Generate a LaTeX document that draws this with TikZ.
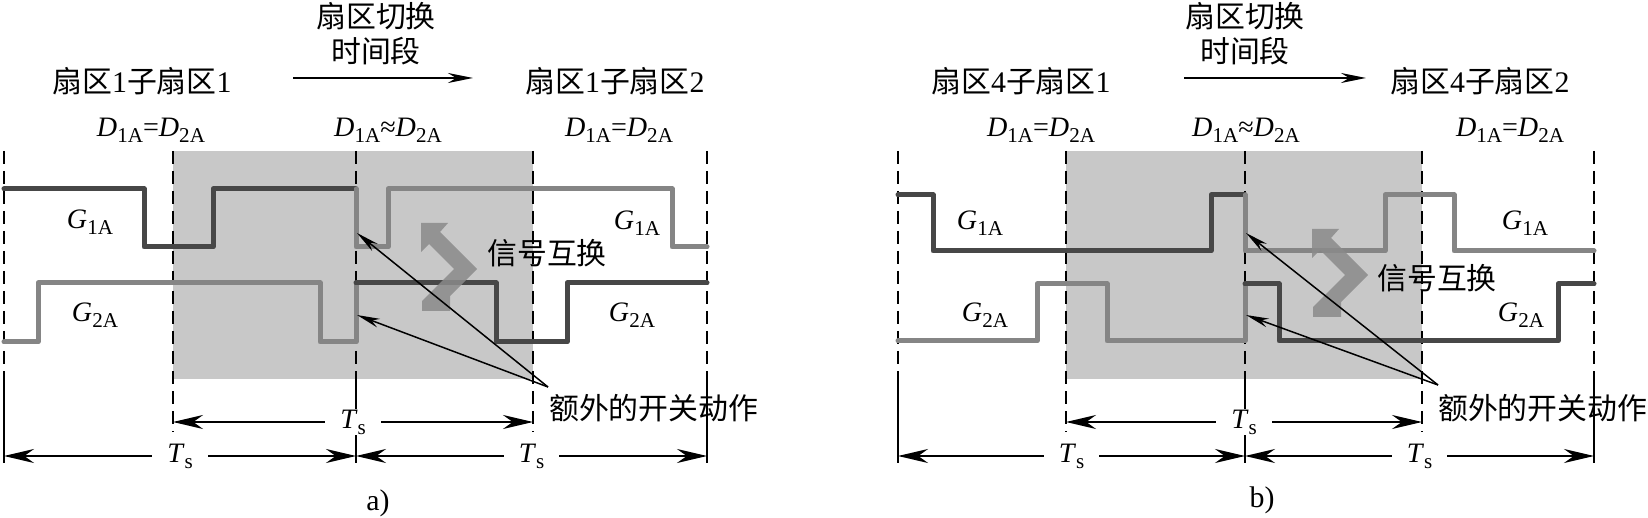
\documentclass[tikz,border=0pt]{standalone}
\usepackage{fontspec}
\setmainfont{Liberation Serif}
\newfontfamily\cjk{Noto Sans CJK SC}
\usetikzlibrary{arrows.meta}
\definecolor{shadegray}{HTML}{C8C8C8}
\definecolor{darkwave}{HTML}{474747}
\definecolor{lightwave}{HTML}{858585}
\definecolor{swapgray}{HTML}{8A8A8A}
\newcommand{\zh}[1]{{\cjk #1}}
\newcommand{\sig}[2]{\textit{#1}\raisebox{-0.45ex}{\fontsize{12}{12}\selectfont #2}}
\def\swapshape{(0,0) -- (27,0) -- (19,9) -- (56,46) -- (29,73) -- (29,88) -- (1,88) -- (1,78) -- (33,46) -- (8,21) -- (0,29) -- cycle}

\begin{document}
\begin{tikzpicture}[
    x=0.2mm, y=-0.2mm,
    font=\fontsize{16}{19}\selectfont,
    zhtext/.style={font=\fontsize{17}{20}\selectfont},
    wavedark/.style={line width=1mm, draw=darkwave, line cap=round, line join=round},
    wavelight/.style={line width=1mm, draw=lightwave, line cap=round, line join=round},
    guide/.style={line width=0.5mm, dash pattern=on 2.6mm off 1.4mm},
    edgeline/.style={line width=0.5mm},
    dim/.style={line width=0.45mm, {Stealth[length=6mm,width=2.8mm]}-{Stealth[length=6mm,width=2.8mm]}},
    period/.style={fill=white, inner xsep=3mm, inner ysep=0.5pt},
    note/.style={line width=0.3mm, -{Stealth[length=4.6mm,width=1.8mm]}},
    toparrow/.style={line width=0.5mm, -{Stealth[length=5mm,width=2mm]}},
    swap/.style={fill=swapgray, fill opacity=0.85}
  ]
  \useasboundingbox (0,0) rectangle (1648,518);

  % switching interval
  \fill[shadegray] (173,151) rectangle (533,379);
  \fill[shadegray] (1066,151) rectangle (1422,379);

  \foreach \x in {4,356,707,898,1245,1594} {
    \draw[guide] (\x,151) -- (\x,379);
    \draw[edgeline] (\x,379) -- (\x,463);
  }
  \foreach \x in {173,533,1066,1422}
    \draw[guide] (\x,151) -- (\x,432);

  % a)
  \draw[wavedark] (4,189) -- (144,189) -- (144,247) -- (213,247) -- (213,189) -- (356,189);
  \draw[wavelight] (356,189) -- (356,247) -- (388,247) -- (388,189) -- (672,189) -- (672,247) -- (707,247);
  \draw[wavelight] (4,342) -- (38,342) -- (38,283) -- (320,283) -- (320,342) -- (356,342) -- (356,283);
  \draw[wavedark] (356,283) -- (496,283) -- (496,342) -- (567,342) -- (567,283) -- (707,283);
  \begin{scope}[shift={(421,223)}]
    \fill[swap] \swapshape;
  \end{scope}

  \node[zhtext] (secA1) at (142,81) {\zh{扇区}1\zh{子扇区}1};
  \node[zhtext, align=center] (swA) at (376,34) {\zh{扇区切换}\\\zh{时间段}};
  \node[zhtext] (secA2) at (615,81) {\zh{扇区}1\zh{子扇区}2};
  \coordinate (swAl) at (293,78);
  \coordinate (swAr) at (473,78);
  \draw[toparrow] (swAl) -- (swAr);

  \node (dA1) at (151,130) {\sig{D}{1A}=\sig{D}{2A}};
  \node (dA2) at (388,130) {\sig{D}{1A}≈\sig{D}{2A}};
  \node (dA3) at (619,130) {\sig{D}{1A}=\sig{D}{2A}};

  \node (gA1) at (90,222) {\sig{G}{1A}};
  \node (gA2) at (95,315) {\sig{G}{2A}};
  \node (gA3) at (637,223) {\sig{G}{1A}};
  \node (gA4) at (632,315) {\sig{G}{2A}};
  \node[zhtext] (swpA) at (547,253) {\zh{信号互换}};

  \node[zhtext, anchor=west] (xtraA) at (543,408) {\zh{额外的开关动作}};
  \coordinate (xtraAsrc) at (548,387);
  \coordinate (hitA1) at (357,233);
  \coordinate (hitA2) at (357,315);
  \draw[note] (xtraAsrc) -- (hitA1);
  \draw[note] (xtraAsrc) -- (hitA2);

  \coordinate (a0) at (4,456);
  \coordinate (a2) at (356,456);
  \coordinate (a4) at (707,456);
  \coordinate (a1) at (173,422);
  \coordinate (a3) at (533,422);
  \draw[dim] (a1) -- node[period] (tsA0) {\sig{T}{s}} (a3);
  \draw[dim] (a0) -- node[period] (tsA1) {\sig{T}{s}} (a2);
  \draw[dim] (a2) -- node[period] (tsA2) {\sig{T}{s}} (a4);
  \node[zhtext] (capA) at (378,503) {a)};

  % b)
  \draw[wavedark] (898,195) -- (933,195) -- (933,251) -- (1211,251) -- (1211,195) -- (1245,195);
  \draw[wavelight] (1245,195) -- (1245,251) -- (1385,251) -- (1385,195) -- (1454,195) -- (1454,251) -- (1594,251);
  \draw[wavelight] (898,341) -- (1037,341) -- (1037,284) -- (1107,284) -- (1107,341) -- (1245,341) -- (1245,284);
  \draw[wavedark] (1245,284) -- (1279,284) -- (1279,341) -- (1558,341) -- (1558,284) -- (1594,284);
  \begin{scope}[shift={(1312,229)}]
    \fill[swap] \swapshape;
  \end{scope}

  \node[zhtext] (secB1) at (1021,81) {\zh{扇区}4\zh{子扇区}1};
  \node[zhtext, align=center] (swB) at (1245,34) {\zh{扇区切换}\\\zh{时间段}};
  \node[zhtext] (secB2) at (1480,81) {\zh{扇区}4\zh{子扇区}2};
  \coordinate (swBl) at (1184,78);
  \coordinate (swBr) at (1366,78);
  \draw[toparrow] (swBl) -- (swBr);

  \node (dB1) at (1041,130) {\sig{D}{1A}=\sig{D}{2A}};
  \node (dB2) at (1246,130) {\sig{D}{1A}≈\sig{D}{2A}};
  \node (dB3) at (1510,130) {\sig{D}{1A}=\sig{D}{2A}};

  \node (gB1) at (980,223) {\sig{G}{1A}};
  \node (gB2) at (985,315) {\sig{G}{2A}};
  \node (gB3) at (1525,223) {\sig{G}{1A}};
  \node (gB4) at (1521,315) {\sig{G}{2A}};
  \node[zhtext] (swpB) at (1437,278) {\zh{信号互换}};

  \node[zhtext, anchor=west] (xtraB) at (1432,408) {\zh{额外的开关动作}};
  \coordinate (xtraBsrc) at (1438,385);
  \coordinate (hitB1) at (1246,233);
  \coordinate (hitB2) at (1246,315);
  \draw[note] (xtraBsrc) -- (hitB1);
  \draw[note] (xtraBsrc) -- (hitB2);

  \coordinate (b0) at (898,456);
  \coordinate (b2) at (1245,456);
  \coordinate (b4) at (1594,456);
  \coordinate (b1) at (1066,422);
  \coordinate (b3) at (1422,422);
  \draw[dim] (b1) -- node[period] (tsB0) {\sig{T}{s}} (b3);
  \draw[dim] (b0) -- node[period] (tsB1) {\sig{T}{s}} (b2);
  \draw[dim] (b2) -- node[period] (tsB2) {\sig{T}{s}} (b4);
  \node[zhtext] (capB) at (1262,500) {b)};
\end{tikzpicture}
\end{document}
